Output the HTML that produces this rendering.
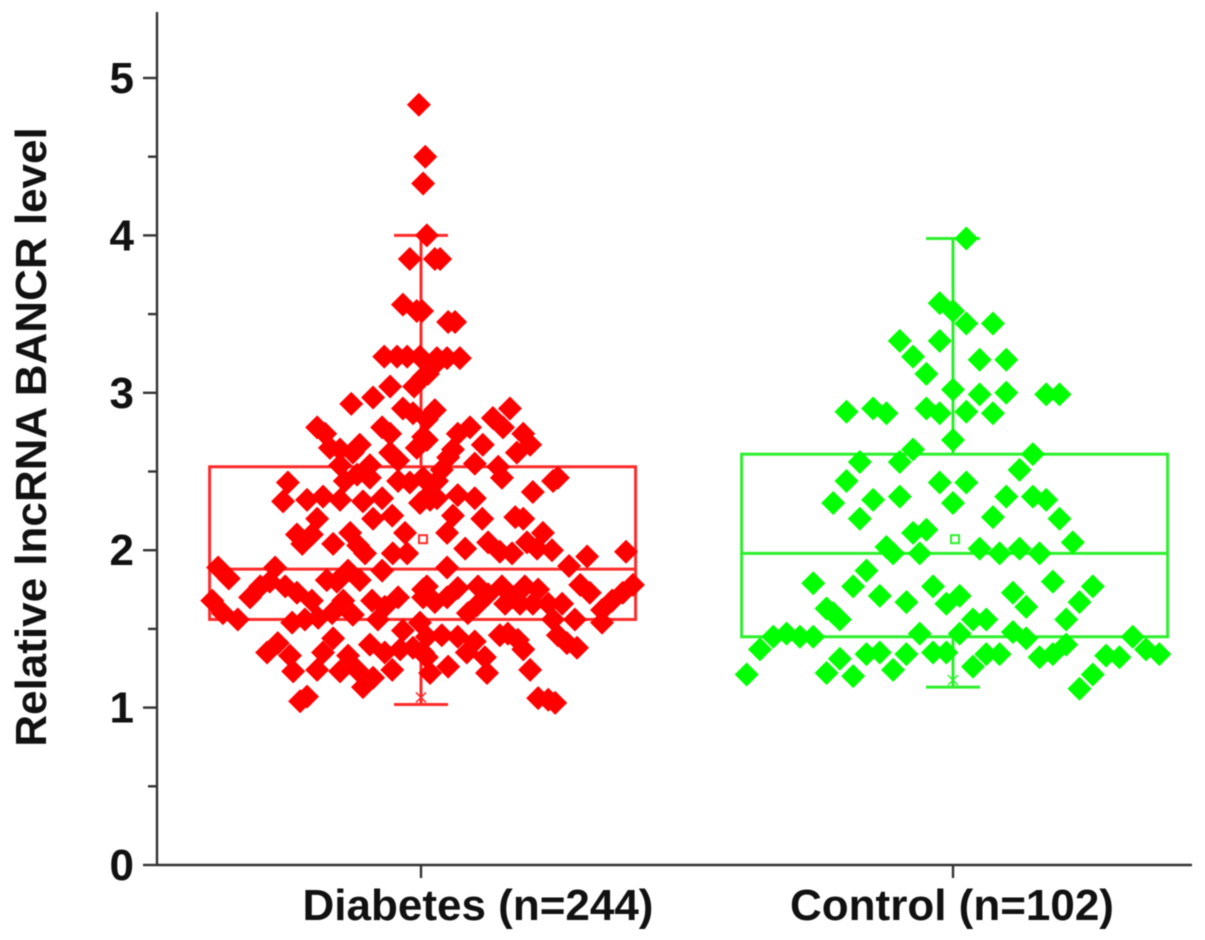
<!DOCTYPE html>
<html lang="en">
<head>
<meta charset="utf-8">
<title>Relative lncRNA BANCR level</title>
<style>
html,body{margin:0;padding:0;background:#fff;width:1205px;height:940px;overflow:hidden}
svg{display:block;filter:blur(0.5px)}
text{font-family:"Liberation Sans",sans-serif;font-weight:bold;fill:#111}
</style>
</head>
<body>
<svg id="chart" xmlns="http://www.w3.org/2000/svg" width="1205" height="940" viewBox="0 0 1205 940">
<g id="plot"></g>
<g id="axes"></g>
</svg>
<script>
const categories = ["Diabetes (n=244)", "Control (n=102)"];
const yTickLabels = [0, 1, 2, 3, 4, 5];
const yMinorTicks = [0.5, 1.5, 2.5, 3.5, 4.5];
const yAxisTitle = "Relative lncRNA BANCR level";

const diabetesStats = {low: 1.02, q1: 1.56, median: 1.88, q3: 2.53, high: 4.00, mean: 2.07};
const controlStats = {low: 1.13, q1: 1.45, median: 1.98, q3: 2.61, high: 3.98, mean: 2.07};

const diabetesJitter = [
-0.4,0.8,0.4,1.1,-2.1,2.6,3.6,-3.4,-0.8,0.2,5.1,6.4,-6.9,-4.5,-2.6,-0.2,3.0,4.9,7.3,2.6,1.3,0.4,-5.8,-1.3,-9.0,-13.1,-3.4,-1.5,2.6,1.1,
-19.5,-18,-7.3,-5.8,-17.1,-15.2,-11.5,-12.8,-5.8,-4.3,-0.8,0.4,-9.6,-15.2,-25,-25.9,-14.3,-12,-9.6,-21.4,-18.4,-15.2,-10.9,-7.3,-4.3,-2.1,0.4,-0.2,1.7,-19.5,
-9,-5.4,-23.3,-22.3,-20.5,-16.5,-13.3,-11.8,-10.5,-3,-5.3,-2.6,-38.1,-36.1,-27.4,-7.3,-17.7,-15.8,-13.7,-11.5,-39.2,-30.2,-32.1,-28.4,-25.5,-23.3,-20.5,-14.6,-9.2,-4.3,
-6.8,0.4,-37.2,-34.4,-24.2,-21.8,-19.3,-16.7,-12.8,-8.1,-3.4,-0.2,-26.9,-28.9,-24.6,-16.5,-18.4,-13.7,-9.6,-6.8,-24,-19.5,-15.2,-12,-10.9,-9,-5.4,-3.9,-1.5,0.4,
-21.4,-22.7,16.7,13.5,15.4,9.2,6.9,19.2,20.5,18,11.6,6,5.1,1.1,10.1,14.5,15.2,3.9,3,1.7,3,25.7,24.8,21,6.9,10.1,6,11.5,17.7,19.2,
4.9,22.9,12.6,14.8,17.1,19.9,21.8,24.6,8.3,31.2,38.5,4.9,27.8,29.9,31.7,34,39.8,37.9,35.9,34,28.9,1.1,2.6,0.4,4.9,6.9,10.7,12.6,15.2,17.1,
19.5,22,8.8,10.5,15.8,18.6,21,23.9,26.5,24.8,14.8,16.3,18.2,19.2,20.5,25.7,27.4,29.3,1.1,3.9,6.9,10.1,1.1,5.1,8.6,12,1.7,12.4,22,23.9,25.2
];
const diabetesValues = [
4.83,4.50,4.33,4.00,3.85,3.85,3.85,3.56,3.52,3.52,3.45,3.45,3.23,3.23,3.23,3.23,3.22,3.22,3.22,3.18,3.12,3.10,3.04,3.04,2.97,2.93,2.90,2.87,2.89,2.83,
2.78,2.74,2.78,2.74,2.65,2.64,2.67,2.62,2.62,2.57,2.65,2.72,2.54,2.54,2.43,2.31,2.44,2.48,2.46,2.32,2.34,2.32,2.31,2.33,2.44,2.43,2.46,2.30,2.32,2.20,
2.20,2.22,2.10,2.04,2.10,2.04,2.11,2.03,1.98,2.11,1.98,1.98,1.89,1.82,1.89,1.87,1.81,1.80,1.87,1.81,1.68,1.77,1.70,1.80,1.77,1.73,1.68,1.68,1.68,1.70,
1.64,1.75,1.60,1.56,1.54,1.56,1.57,1.60,1.59,1.56,1.49,1.54,1.41,1.35,1.33,1.44,1.35,1.33,1.40,1.35,1.23,1.24,1.23,1.24,1.13,1.19,1.24,1.37,1.38,1.35,
1.07,1.04,2.90,2.84,2.78,2.78,2.74,2.74,2.67,2.62,2.67,2.64,2.59,2.70,2.55,2.53,2.46,2.51,2.44,2.36,2.33,2.46,2.44,2.37,2.35,2.33,2.22,2.20,2.21,2.20,
2.11,2.11,2.05,1.99,1.98,2.05,2.01,2.00,2.01,1.96,1.99,1.89,1.90,1.78,1.73,1.62,1.78,1.73,1.68,1.54,1.56,1.77,1.67,1.70,1.70,1.76,1.77,1.72,1.77,1.70,
1.77,1.75,1.60,1.65,1.66,1.66,1.66,1.66,1.66,1.56,1.46,1.47,1.43,1.37,1.24,1.46,1.41,1.38,1.45,1.46,1.45,1.42,1.32,1.26,1.35,1.32,1.22,1.22,1.06,1.05,1.03
];

const controlJitter = [
2.5,-2.5,0,2.5,7.5,-10,-2.5,-7.5,5,10,-5,0,5,10,17.5,20,-20,-15,-12.5,-5,-2.5,2.5,7.5,0,-7.5,-10,-17.5,15,12.5,
-20,-22.5,-15,-10,-17.5,-2.5,2.5,0,10,15,17.5,7.5,20,-7.5,-5,-12.5,-11.25,-6.25,5,8.75,12.5,16.25,22.5,-16.25,-26.25,-18.75,-13.75,-8.75,
-3.75,-1.25,1.25,11.25,13.75,18.75,26.25,23.75,21.25,-23.75,-22.5,-21.25,-33.75,-31.25,-28.75,-26.25,-36.25,-38.75,-6.25,1.25,3.75,6.25,11.25,13.75,33.75,36.25,38.75,28.75,31.25,26.25,23.75,-21.25,-23.75,-18.75,
-16.25,-13.75,-8.75,-11.25,-3.75,-1.25,6.25,8.75,3.75,16.25,18.75,21.25
];
const controlValues = [
3.98,3.57,3.52,3.44,3.44,3.33,3.33,3.23,3.21,3.21,3.12,3.02,2.99,3.00,2.99,2.99,2.88,2.90,2.87,2.90,2.87,2.88,2.87,2.70,2.64,2.56,2.56,2.61,2.51,
2.44,2.30,2.32,2.34,2.20,2.43,2.43,2.30,2.34,2.34,2.32,2.21,2.20,2.11,2.13,2.02,1.98,1.98,2.01,1.98,2.01,1.98,2.05,1.87,1.79,1.77,1.71,1.67,
1.77,1.66,1.71,1.73,1.64,1.80,1.77,1.67,1.56,1.63,1.60,1.56,1.45,1.47,1.45,1.45,1.37,1.21,1.47,1.47,1.56,1.56,1.48,1.44,1.45,1.37,1.34,1.33,1.32,1.21,1.12,1.31,1.22,1.20,
1.34,1.35,1.34,1.24,1.35,1.35,1.34,1.34,1.26,1.32,1.34,1.40
];

const NS = "http://www.w3.org/2000/svg";
const plot = document.getElementById("plot");
const axes = document.getElementById("axes");

const plotLeft = 157, plotBottom = 865, plotTop = 12, plotRight = 1192;
const unitsPerValue = 157.4;
const categoryStart = 421, categoryStep = 532, jitterUnit = 5.325, boxHalfUnits = 40, boxOffsetUnits = 0.3;

function yScale(v) { return plotBottom - v * unitsPerValue; }
function xScale(cat, jitter) { return categoryStart + cat * categoryStep + jitter * jitterUnit; }

function make(tag, attrs, parent) {
  const el = document.createElementNS(NS, tag);
  for (const k in attrs) el.setAttribute(k, attrs[k]);
  parent.appendChild(el);
  return el;
}

function drawBox(cat, s, color) {
  const g = make("g", {fill: "none", stroke: color, "stroke-width": 3}, plot);
  
  
  const cx = xScale(cat, 0);
  const xl = xScale(cat, boxOffsetUnits - boxHalfUnits), xr = xScale(cat, boxOffsetUnits + boxHalfUnits);
  const rect = make("rect", {x: xl, y: yScale(s.q3), width: xr - xl, height: yScale(s.q1) - yScale(s.q3)}, g);
  
  
  const med = make("line", {x1: xl, x2: xr, y1: yScale(s.median), y2: yScale(s.median)}, g);
  
  
  const w1 = make("line", {x1: cx, x2: cx, y1: yScale(s.high), y2: yScale(s.q3)}, g);
  
  
  const w2 = make("line", {x1: cx, x2: cx, y1: yScale(s.q1), y2: yScale(s.low)}, g);
  
  
  const c1 = make("line", {x1: cx - 27, x2: cx + 27, y1: yScale(s.high), y2: yScale(s.high)}, g);
  
  
  const c2 = make("line", {x1: cx - 27, x2: cx + 27, y1: yScale(s.low), y2: yScale(s.low)}, g);
  
  
  const mk = make("path", {d: "M" + (cx - 5) + " " + (yScale(s.low) - 12) + "l10 10m0 -10l-10 10", "stroke-width": 1.5}, g);
  
  
}

function drawPoints(cat, jitters, values, color, name) {
  const g = make("g", {fill: color}, plot);
  
  
  const r = 12;
  values.forEach(function (v, i) {
    const x = xScale(cat, jitters[i]), y = yScale(v);
    const p = make("polygon", {points: [x, y - r, x + r, y, x, y + r, x - r, y].join(",")}, g);
    
    
  });
}

function drawMean(cat, s, color) {
  const cx = xScale(cat, 0) + 2;
  const m = make("rect", {x: cx - 4, y: yScale(s.mean) - 4, width: 8, height: 8, fill: "#fff", stroke: color, "stroke-width": 2}, plot);
  
  
}

drawBox(0, diabetesStats, "#ff2a2a");
drawBox(1, controlStats, "#2cf02c");
drawPoints(0, diabetesJitter, diabetesValues, "#ff0000", "diabetes");
drawPoints(1, controlJitter, controlValues, "#00ff00", "control");
drawMean(0, diabetesStats, "#ff2a2a");
drawMean(1, controlStats, "#2cf02c");

const axisStyle = {stroke: "#333", "stroke-width": 2.4, fill: "none"};
const yLine = make("line", Object.assign({x1: plotLeft, x2: plotLeft, y1: plotTop, y2: plotBottom + 1}, axisStyle), axes);


const xLine = make("line", Object.assign({x1: plotLeft, x2: plotRight, y1: plotBottom, y2: plotBottom}, axisStyle), axes);



yTickLabels.forEach(function (v) {
  const y = yScale(v);
  const t = make("line", Object.assign({x1: plotLeft - 14, x2: plotLeft, y1: y, y2: y}, axisStyle), axes);
  
  
  const l = make("text", {x: 134, y: y + 15, "text-anchor": "end", "font-size": 44}, axes);
  l.textContent = String(v);
  
  
});
yMinorTicks.forEach(function (v) {
  const y = yScale(v);
  const t = make("line", Object.assign({x1: plotLeft - 9, x2: plotLeft, y1: y, y2: y}, axisStyle), axes);
  
  
});
const categoryLabelX = [478, 952];
categories.forEach(function (c, i) {
  const x = xScale(i, 0);
  const t = make("line", Object.assign({x1: x, x2: x, y1: plotBottom, y2: plotBottom + 13}, axisStyle), axes);
  
  
  const l = make("text", {x: categoryLabelX[i], y: 920, "text-anchor": "middle", "font-size": 44}, axes);
  l.textContent = c;
  
  
});
const title = make("text", {x: 0, y: 0, "text-anchor": "middle", "font-size": 44, transform: "translate(46 437) rotate(-90)"}, axes);
title.textContent = yAxisTitle;


</script>
</body>
</html>
